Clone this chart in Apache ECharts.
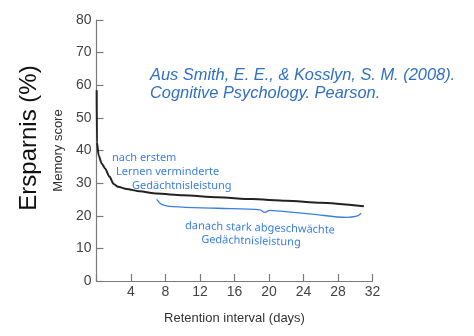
<!DOCTYPE html>
<html>
<head>
<meta charset="utf-8">
<script src="https://cdn.jsdelivr.net/npm/echarts@6/dist/echarts.min.js"></script>
<style>
html,body{margin:0;padding:0;background:#fff;}
#chart{width:474px;height:336px;}
</style>
</head>
<body>
<div id="chart"></div>
<script>
// Retention curve (days, memory score)
const days  = [0.02, 0.05, 0.25, 0.6, 1.0, 1.5, 2.0, 2.5, 3.5, 5.0, 7.0, 10.0, 14.0, 18.0, 22.0, 26.0, 31.0];
const score = [58.5, 42.5, 38.5, 36.0, 34.5, 32.0, 29.7, 28.9, 28.2, 27.5, 26.8, 26.3, 25.7, 25.1, 24.6, 24.0, 22.9];

// Hand-drawn brace under the curve (data space)
const braceX = [6.98, 7.55, 8.9, 14.0, 18.95, 19.5, 20.1, 21.3, 25.0, 29.0, 30.15, 30.7];
const braceY = [25.0, 23.5, 22.8, 22.3, 21.8, 21.05, 21.65, 21.4, 20.5, 19.5, 19.85, 20.8];

// Axis ticks
const xTicks = [0, 4, 8, 12, 16, 20, 24, 28, 32];
const yTicks = [0, 10, 20, 30, 40, 50, 60, 70, 80];

// Texts
const xTitle = 'Retention interval (days)';
const yTitle = 'Memory score';
const bigTitle = 'Ersparnis (%)';
const citation = ['Aus Smith, E. E., & Kosslyn, S. M. (2008).', 'Cognitive Psychology. Pearson.'];
const note1 = ['nach erstem', 'Lernen verminderte', 'Gedächtnisleistung'];
const note2 = ['danach stark abgeschwächte', 'Gedächtnisleistung'];

const chart = echarts.init(document.getElementById('chart'), null, {renderer: 'canvas'});
const axisColor = '#7a7a7a';
const labelColor = '#444';
const blue = '#2f6fc4';
const handBlue = '#3a7fe0';

const option = {
  animation: false,
  backgroundColor: '#fff',
  grid: {left: 96.5, right: 101.5, top: 20, bottom: 55, containLabel: false},
  xAxis: {
    type: 'value',
    min: xTicks[0], max: xTicks[xTicks.length - 1], interval: 4,
    name: xTitle, nameLocation: 'middle', nameGap: 31,
    nameTextStyle: {color: '#333', fontSize: 13, fontFamily: 'Liberation Sans'},
    axisLine: {show: true, onZero: false, lineStyle: {color: axisColor, width: 1.2}},
    axisTick: {show: true, inside: true, length: 7, lineStyle: {color: axisColor, width: 1.2}},
    axisLabel: {color: labelColor, fontSize: 14, fontFamily: 'Liberation Sans', margin: 4,
      formatter: v => v === 0 ? '' : String(v)},
    splitLine: {show: false}
  },
  yAxis: {
    type: 'value',
    min: yTicks[0], max: yTicks[yTicks.length - 1], interval: 10,
    name: yTitle, nameLocation: 'middle', nameGap: 28, nameRotate: 90,
    nameTextStyle: {color: '#333', fontSize: 13, fontFamily: 'Liberation Sans'},
    axisLine: {show: true, lineStyle: {color: axisColor, width: 1.2}},
    axisTick: {show: true, inside: true, length: 7, lineStyle: {color: axisColor, width: 1.2}},
    axisLabel: {color: labelColor, fontSize: 14, fontFamily: 'Liberation Sans', margin: 5},
    splitLine: {show: false}
  },
  series: [
    {
      type: 'line',
      data: days.map((d, i) => [d, score[i]]),
      smooth: 0.25,
      smoothMonotone: 'x',
      symbol: 'none',
      lineStyle: {color: '#222', width: 2},
      silent: true,
      z: 3
    },
    {
      type: 'line',
      data: braceX.map((d, i) => [d, braceY[i]]),
      smooth: 0.35,
      symbol: 'none',
      lineStyle: {color: handBlue, width: 1.3},
      silent: true,
      z: 2
    }
  ],
  graphic: [
    {
      type: 'text', x: 29, y: 138, rotation: Math.PI / 2,
      style: {text: bigTitle, fill: '#111', font: '24px "Liberation Sans"', align: 'center', verticalAlign: 'middle'}
    },
    {
      type: 'text', x: 150, y: 75,
      style: {text: citation[0], fill: blue, font: 'italic 16.4px "Liberation Sans"', align: 'left', verticalAlign: 'middle'}
    },
    {
      type: 'text', x: 150, y: 93,
      style: {text: citation[1], fill: blue, font: 'italic 16.4px "Liberation Sans"', align: 'left', verticalAlign: 'middle'}
    },
    {
      type: 'text', x: 112, y: 158,
      style: {text: note1[0], fill: handBlue, font: '11px "Noto Sans"', align: 'left', verticalAlign: 'middle'}
    },
    {
      type: 'text', x: 116, y: 172,
      style: {text: note1[1], fill: handBlue, font: '11px "Noto Sans"', align: 'left', verticalAlign: 'middle'}
    },
    {
      type: 'text', x: 132, y: 186,
      style: {text: note1[2], fill: handBlue, font: '11px "Noto Sans"', align: 'left', verticalAlign: 'middle'}
    },
    {
      type: 'text', x: 260, y: 228, rotation: -0.03,
      style: {text: note2[0], fill: handBlue, font: '11px "Noto Sans"', align: 'center', verticalAlign: 'middle'}
    },
    {
      type: 'text', x: 251, y: 241, rotation: -0.03,
      style: {text: note2[1], fill: handBlue, font: '11px "Noto Sans"', align: 'center', verticalAlign: 'middle'}
    }
  ]
};
chart.setOption(option);
</script>
</body>
</html>
